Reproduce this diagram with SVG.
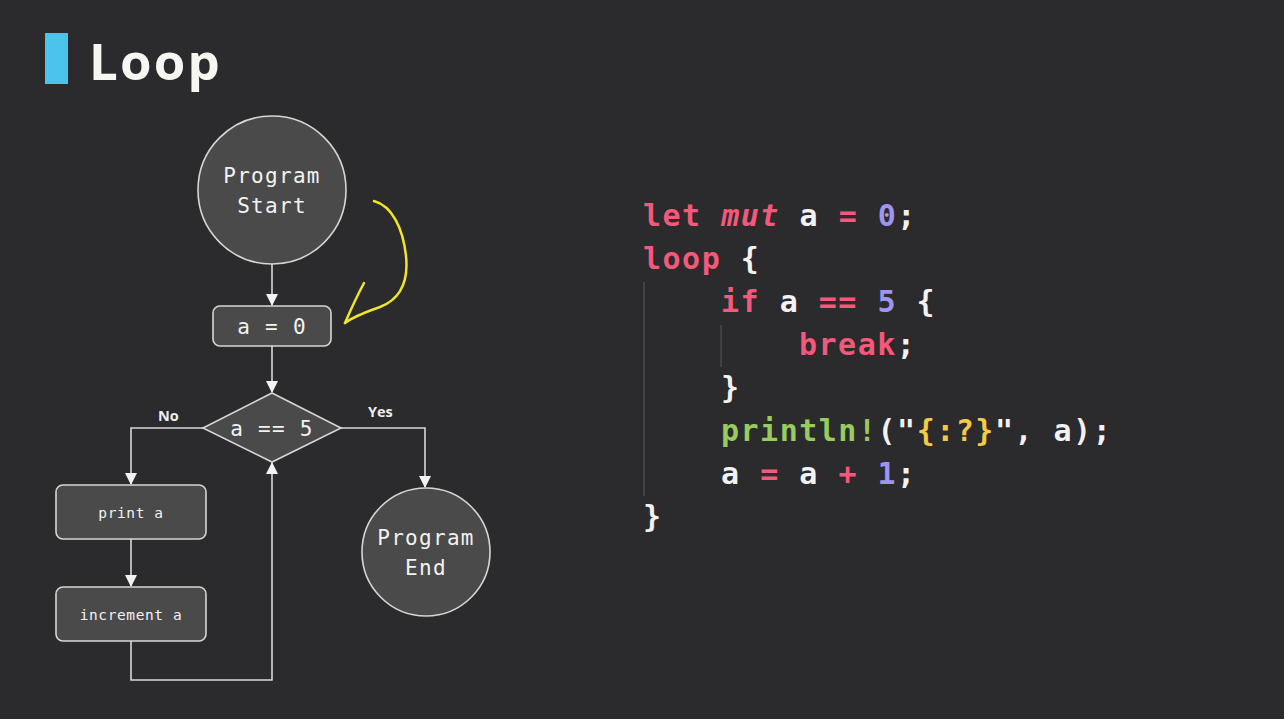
<svg xmlns="http://www.w3.org/2000/svg" width="1284" height="719" viewBox="0 0 1284 719">
<style>
.node{fill:#4a4a4b;stroke:#d6d6d6;stroke-width:1.6}
.nt{font-family:"DejaVu Sans Mono","Liberation Mono",monospace;fill:#f2f2f2;text-anchor:middle}
.big{font-size:21px;letter-spacing:1.3px}
.small{font-size:14.5px;letter-spacing:0.6px}
.conn{fill:none;stroke:#d8d8d8;stroke-width:1.6}
.lbl{font-family:"Open Sans","Liberation Sans",sans-serif;font-weight:bold;font-size:14.5px;fill:#eeeeee}
.code{font-family:"DejaVu Sans Mono","Liberation Mono",monospace;font-weight:bold;font-size:30px;letter-spacing:1.5px;fill:#f2f2f2}
.k{fill:#f4587a}
.n{fill:#9d95f0}
.g{fill:#98cc5e}
.y{fill:#f6c945}
.guide{stroke:#4a494c;stroke-width:1.5}
</style>
<defs>
<marker id="ah" viewBox="0 0 12 12" refX="11" refY="6" markerWidth="12" markerHeight="12" markerUnits="userSpaceOnUse" orient="auto">
<path d="M0,0 L12,6 L0,12 Z" fill="#f2f2f2"/>
</marker>
</defs>
<rect width="1284" height="719" fill="#2b2a2d"/>
<g id="title">
<rect x="45" y="33" width="23" height="51" fill="#4cc3ea"/>
<text x="89" y="80" font-family="Open Sans, Liberation Sans, sans-serif" font-weight="bold" font-size="51" letter-spacing="2.2" fill="#f7f7f2">Loop</text>
</g>
<g id="connectors">
<path class="conn" d="M272,264 V305" marker-end="url(#ah)"/>
<path class="conn" d="M272,346 V392" marker-end="url(#ah)"/>
<path class="conn" d="M203,428 H131 V484" marker-end="url(#ah)"/>
<path class="conn" d="M341,428 H425 V487" marker-end="url(#ah)"/>
<path class="conn" d="M131,539 V586" marker-end="url(#ah)"/>
<path class="conn" d="M131,641 V680 H272 V463" marker-end="url(#ah)"/>
<text class="lbl" x="158" y="421">No</text>
<text class="lbl" x="368" y="417">Yes</text>
</g>
<g id="start">
<circle class="node" cx="272" cy="190" r="74"/>
<text class="nt big" x="272" y="183">Program</text>
<text class="nt big" x="272" y="213">Start</text>
</g>
<g id="init">
<rect class="node" x="213" y="306" width="118" height="40" rx="7"/>
<text class="nt big" x="272" y="334">a = 0</text>
</g>
<g id="cond">
<polygon class="node" points="272,393 341,428 272,462 203,428"/>
<text class="nt big" x="272" y="436">a == 5</text>
</g>
<g id="print">
<rect class="node" x="56" y="485" width="150" height="54" rx="7"/>
<text class="nt small" x="131" y="518">print a</text>
</g>
<g id="increment">
<rect class="node" x="56" y="587" width="150" height="54" rx="7"/>
<text class="nt small" x="131" y="620">increment a</text>
</g>
<g id="end">
<circle class="node" cx="426" cy="552" r="64"/>
<text class="nt big" x="426" y="545">Program</text>
<text class="nt big" x="426" y="575">End</text>
</g>
<g id="annotation" fill="none" stroke="#f0e628" stroke-width="2.5" stroke-linecap="round" stroke-linejoin="round">
<path d="M374,201 C392,206 403,228 406,256 C409,285 398,300 380,307 C366,312 354,316 345,323"/>
<path d="M364,283 C357,296 351,309 345,323"/>
</g>
<g id="code">
<line class="guide" x1="644" y1="282" x2="644" y2="496"/>
<line class="guide" x1="721" y1="325" x2="721" y2="367"/>
<text class="code" x="643" y="226"><tspan class="k">let</tspan> <tspan class="k" font-style="italic">mut</tspan> a <tspan class="k">=</tspan> <tspan class="n">0</tspan>;</text>
<text class="code" x="643" y="269"><tspan class="k">loop</tspan> {</text>
<text class="code" x="721" y="312"><tspan class="k">if</tspan> a <tspan class="k">==</tspan> <tspan class="n">5</tspan> {</text>
<text class="code" x="799" y="355"><tspan class="k">break</tspan>;</text>
<text class="code" x="721" y="398">}</text>
<text class="code" x="721" y="441"><tspan class="g">println!</tspan>("<tspan class="y">{:?}</tspan>", a);</text>
<text class="code" x="721" y="484">a <tspan class="k">=</tspan> a <tspan class="k">+</tspan> <tspan class="n">1</tspan>;</text>
<text class="code" x="643" y="527">}</text>
</g>
</svg>
